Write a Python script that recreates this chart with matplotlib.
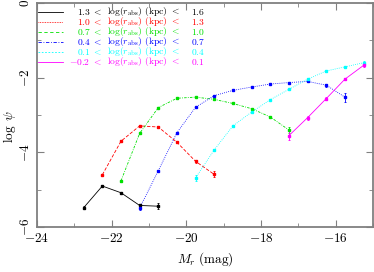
import numpy as np
import matplotlib
matplotlib.use('Agg')
import matplotlib.pyplot as plt

plt.rcParams['font.family'] = 'serif'
plt.rcParams['font.serif'] = ['cmr10', 'DejaVu Serif']
plt.rcParams['mathtext.fontset'] = 'cm'
plt.rcParams['axes.formatter.use_mathtext'] = True

# absolute magnitude bins and log psi for each radius bin
mr_black = [-22.75, -22.25, -21.75, -21.25, -20.75]
psi_black = [-5.48, -4.90, -5.08, -5.42, -5.44]
err_black = [0.04, 0.03, 0.03, 0.05, 0.08]

mr_red = [-22.25, -21.75, -21.25, -20.75, -20.25, -19.75, -19.25]
psi_red = [-4.60, -3.70, -3.29, -3.32, -3.73, -4.24, -4.59]
err_red = [0.02, 0.02, 0.02, 0.02, 0.03, 0.04, 0.08]

mr_green = [-21.75, -21.25, -20.75, -20.25, -19.75, -19.25, -18.75, -18.25, -17.75, -17.25]
psi_green = [-4.76, -3.49, -2.80, -2.55, -2.52, -2.58, -2.69, -2.83, -3.05, -3.40]
err_green = [0.02, 0.02, 0.01, 0.01, 0.01, 0.02, 0.02, 0.02, 0.03, 0.08]

mr_blue = [-21.25, -20.75, -20.25, -19.75, -19.25, -18.75, -18.25, -17.75, -17.25, -16.75, -16.25, -15.75]
psi_blue = [-5.49, -4.49, -3.47, -2.79, -2.48, -2.34, -2.25, -2.17, -2.13, -2.10, -2.20, -2.52]
err_blue = [0.05, 0.02, 0.02, 0.01, 0.01, 0.01, 0.01, 0.01, 0.02, 0.02, 0.04, 0.12]

mr_cyan = [-19.75, -19.25, -18.75, -18.25, -17.75, -17.25, -16.75, -16.25, -15.75, -15.25]
psi_cyan = [-4.68, -3.93, -3.29, -2.92, -2.59, -2.31, -2.04, -1.82, -1.71, -1.60]
err_cyan = [0.08, 0.03, 0.02, 0.02, 0.02, 0.02, 0.02, 0.02, 0.03, 0.04]

mr_mag = [-17.25, -16.75, -16.25, -15.75, -15.25]
psi_mag = [-3.55, -3.07, -2.56, -2.04, -1.67]
err_mag = [0.12, 0.05, 0.03, 0.03, 0.04]

lo = ['1.3', '1.0', '0.7', '0.4', '0.1', '-0.2']
hi = ['1.6', '1.3', '1.0', '0.7', '0.4', '0.1']

fig = plt.figure(figsize=(3.74, 2.72), dpi=100)
ax = fig.add_axes([0.099, 0.165, 0.898, 0.824])

series = [
    (mr_black, psi_black, err_black, 'black', '-'),
    (mr_red, psi_red, err_red, 'red', (0, (4, 2))),
    (mr_green, psi_green, err_green, '#00e000', (0, (3, 1.5, 1, 1.5))),
    (mr_blue, psi_blue, err_blue, 'blue', (0, (1, 1.5))),
    (mr_cyan, psi_cyan, err_cyan, 'cyan', (0, (1, 1.5))),
    (mr_mag, psi_mag, err_mag, 'magenta', '-'),
]
leg_styles = ['-', (0, (1, 1)), (0, (4, 3)), (0, (4, 2, 1, 2)), (0, (2, 2)), '-']

for x, y, e, c, ls in series:
    ax.plot(x, y, color=c, ls=ls, lw=0.6)
    ax.errorbar(x, y, yerr=e, fmt='s', ms=1.6, color=c, elinewidth=0.6, capsize=1.0, capthick=0.6)

fs = 6.9
for i, (x, y, e, c, ls) in enumerate(series):
    yy = 0.96 - i * 0.0446
    ax.plot([0.003, 0.076], [yy, yy], transform=ax.transAxes, color=c, ls=leg_styles[i], lw=0.6)
    ax.text(0.193, yy, '$' + lo[i] + r'\ <$', transform=ax.transAxes, color=c, ha='right', va='center', fontsize=fs)
    ax.text(0.207, yy, r'log($r_{\rm abs}$) (kpc) $<$', transform=ax.transAxes, color=c, ha='left', va='center', fontsize=fs)
    ax.text(0.458, yy, '$' + hi[i] + '$', transform=ax.transAxes, color=c, ha='left', va='center', fontsize=fs)

ax.set_xlim(-24, -15)
ax.set_ylim(-6, 0)
ax.set_xticks([-24, -22, -20, -18, -16])
ax.set_xticks(np.arange(-23, -14, 2), minor=True)
ax.set_yticks([-6, -4, -2, 0])
ax.set_yticks([-5, -3, -1], minor=True)
ax.tick_params(which='both', direction='in', top=True, right=True, color='grey', labelsize=9.5)
ax.tick_params(which='major', length=5)
ax.tick_params(which='minor', length=3)
ax.tick_params(axis='y', labelrotation=90)
for lab in ax.get_yticklabels():
    lab.set_va('center')
for s in ax.spines.values():
    s.set_color('grey')
    s.set_linewidth(1.3)

ax.set_xlabel(r'$M_r\ ({\rm mag})$', fontsize=9.5)
ax.set_ylabel(r'$\log\ \psi$', fontsize=9.5)
ax.yaxis.set_label_coords(-0.058, 0.45)

fig.savefig('out.png', dpi=100)
